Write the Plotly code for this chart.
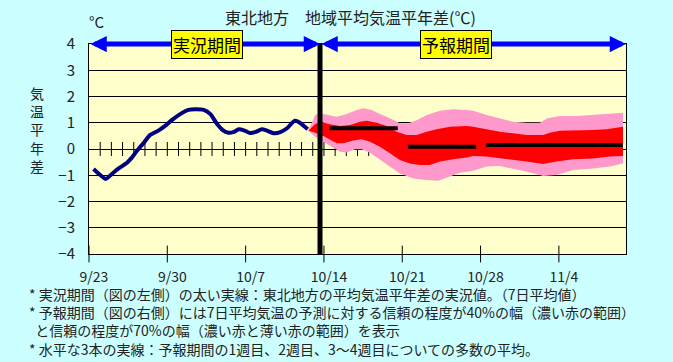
import plotly.graph_objects as go

# ---------------- data ----------------
tick_labels = ["9/23", "9/30", "10/7", "10/14", "10/21", "10/28", "11/4"]
n_days = 48
forecast_start = 20.65

# observed 7-day mean anomaly (days since 9/23)
obs_day = [0.4, 1.0, 1.5, 2.05, 2.65, 3.4, 3.85, 4.3, 4.9, 5.45, 6.2, 6.8, 7.4, 8.15,
           8.9, 9.5, 10.25, 10.85, 11.45, 11.95, 12.45, 12.9, 13.4, 13.9, 14.4, 14.9,
           15.45, 15.9, 16.5, 17.1, 17.7, 18.4, 18.85, 19.55]
obs_val = [-0.76, -0.99, -1.14, -0.95, -0.74, -0.52, -0.32, -0.06, 0.24, 0.53, 0.70,
           0.88, 1.10, 1.33, 1.49, 1.51, 1.49, 1.33, 0.95, 0.72, 0.62, 0.64, 0.75, 0.70,
           0.61, 0.65, 0.75, 0.70, 0.60, 0.64, 0.79, 1.08, 1.00, 0.75]

# 70% band
p70_up_day = [19.61, 20.21, 20.65, 21.25, 22.14, 23.04, 23.93, 24.52, 25.27, 26.0, 26.9,
              27.79, 28.54, 29.29, 30.18, 31.37, 32.55, 33.75, 34.34, 35.54, 36.72,
              37.91, 39.11, 40.29, 40.98, 42.06, 43.57, 45.05, 46.25, 47.73]
p70_up_val = [0.70, 1.30, 1.36, 1.30, 1.23, 1.33, 1.49, 1.55, 1.49, 1.33, 1.17, 0.98,
              0.98, 1.10, 1.30, 1.46, 1.51, 1.49, 1.46, 1.30, 1.17, 1.04, 1.00, 1.00,
              1.17, 1.26, 1.26, 1.30, 1.33, 1.38]
p70_lo_day = [19.61, 20.21, 20.95, 21.70, 22.45, 23.04, 23.78, 24.38, 25.12, 26.0, 26.9,
              27.79, 28.98, 30.18, 31.22, 32.11, 33.16, 34.34, 35.54, 36.72, 37.91,
              39.11, 40.59, 41.78, 43.27, 45.05, 46.55, 47.73]
p70_lo_val = [0.70, 0.47, 0.28, 0.09, -0.10, -0.13, -0.01, -0.01, -0.14, -0.42, -0.67,
              -0.93, -1.12, -1.18, -1.21, -1.08, -0.90, -0.83, -0.67, -0.65, -0.74,
              -0.86, -1.03, -0.99, -0.80, -0.74, -0.67, -0.55]

# 40% band
p40_up_day = [19.61, 20.21, 20.80, 21.40, 22.45, 23.34, 24.23, 24.83, 25.72, 26.61,
              27.50, 28.39, 29.29, 30.18, 31.07, 32.26, 33.75, 34.34, 35.54, 36.72,
              37.91, 39.11, 40.59, 41.19, 42.06, 43.57, 45.05, 46.25, 47.73]
p40_up_val = [0.70, 0.95, 1.04, 0.95, 0.88, 0.91, 1.04, 1.08, 1.00, 0.88, 0.66, 0.53,
              0.53, 0.66, 0.75, 0.85, 0.88, 0.85, 0.75, 0.66, 0.60, 0.53, 0.53, 0.62,
              0.70, 0.70, 0.72, 0.75, 0.85]
p40_lo_day = [19.61, 20.21, 20.95, 21.55, 22.14, 22.73, 23.63, 24.38, 25.12, 26.0, 26.9,
              27.79, 28.69, 29.58, 30.47, 31.37, 32.55, 33.75, 34.34, 35.54, 36.72,
              37.91, 39.11, 40.59, 41.78, 43.27, 45.05, 46.55, 47.73]
p40_lo_val = [0.70, 0.62, 0.50, 0.37, 0.22, 0.22, 0.32, 0.37, 0.28, 0.09, -0.16, -0.42,
              -0.55, -0.61, -0.61, -0.48, -0.39, -0.32, -0.27, -0.29, -0.36, -0.42,
              -0.48, -0.57, -0.48, -0.39, -0.36, -0.29, -0.27]

# weekly ensemble means
week_start = [21.5, 28.5, 35.5]
week_end = [27.6, 34.6, 47.7]
week_mean = [0.79, 0.09, 0.15]

title_text = "東北地方　地域平均気温平年差(℃)"
ylabel_chars = ["気", "温", "平", "年", "差"]
notes = [
    "* 実況期間（図の左側）の太い実線：東北地方の平均気温平年差の実況値。（7日平均値）",
    "* 予報期間（図の右側）には7日平均気温の予測に対する信頼の程度が40%の幅（濃い赤の範囲）",
    "\u00a0\u00a0と信頼の程度が70%の幅（濃い赤と薄い赤の範囲）を表示",
    "* 水平な3本の実線：予報期間の1週目、2週目、3～4週目についての多数の平均。",
]

# ---------------- layout geometry ----------------
W, H = 673, 362
L, R, T, B = 89, 47, 44, 108
PW, PH = W - L - R, H - T - B
FONT = "Noto Sans CJK JP"
TXT = "#222222"


def fx(px):
    return (px - L) / PW


def fy(py):
    return (T + PH - py) / PH


fig = go.Figure()

# small day ticks on the zero line
day_ticks = list(range(1, n_days))
fig.add_trace(go.Scatter(
    x=day_ticks, y=[0] * len(day_ticks), mode="markers",
    marker=dict(symbol="line-ns", size=10, line=dict(width=1, color="black")),
    hoverinfo="skip", showlegend=False))

# week ticks crossing the bottom axis
week_ticks = [7 * i for i in range(len(tick_labels))]
fig.add_trace(go.Scatter(
    x=week_ticks, y=[-4] * len(week_ticks), mode="markers", cliponaxis=False,
    marker=dict(symbol="line-ns", size=12, line=dict(width=1, color="black")),
    hoverinfo="skip", showlegend=False))

# 70% band (pink)
fig.add_trace(go.Scatter(
    x=p70_up_day + p70_lo_day[::-1], y=p70_up_val + p70_lo_val[::-1],
    fill="toself", fillcolor="#FF99CC", mode="lines", line=dict(width=0, color="#FF99CC"),
    hoverinfo="skip", showlegend=False))
# 40% band (red)
fig.add_trace(go.Scatter(
    x=p40_up_day + p40_lo_day[::-1], y=p40_up_val + p40_lo_val[::-1],
    fill="toself", fillcolor="#FF0000", mode="lines", line=dict(width=0, color="#FF0000"),
    hoverinfo="skip", showlegend=False))

# observed line
fig.add_trace(go.Scatter(
    x=obs_day, y=obs_val, mode="lines",
    line=dict(color="#000080", width=4, shape="spline", smoothing=0.6),
    hoverinfo="skip", showlegend=False))

# weekly mean lines
wx, wy = [], []
for s, e, m in zip(week_start, week_end, week_mean):
    wx += [s, e, None]
    wy += [m, m, None]
fig.add_trace(go.Scatter(x=wx, y=wy, mode="lines", line=dict(color="black", width=4),
                         hoverinfo="skip", showlegend=False))

# boundary between observed and forecast periods
fig.add_shape(type="line", x0=forecast_start, x1=forecast_start, y0=-4, y1=4,
              xref="x", yref="y", line=dict(color="black", width=5), layer="above")

annotations = []
# period arrows
for a, b in [(0, forecast_start), (forecast_start, n_days)]:
    annotations.append(dict(
        x=b, y=4, ax=a, ay=4, xref="x", yref="y", axref="x", ayref="y",
        text="", showarrow=True, arrowhead=2, arrowside="end+start",
        arrowsize=0.65, arrowwidth=5, arrowcolor="#0000FF", standoff=0, startstandoff=0))
# period labels
for lab, xd in [("実況期間", 10.52), ("予報期間", 32.84)]:
    annotations.append(dict(
        x=xd, y=4, xref="x", yref="y", text=lab, showarrow=False,
        bgcolor="#FFFF00", bordercolor="black", borderwidth=1, borderpad=1,
        font=dict(family=FONT, size=17, color="black")))
# title
annotations.append(dict(x=fx(350), y=fy(17), xref="paper", yref="paper", text=title_text,
                        showarrow=False, xanchor="center", yanchor="middle",
                        font=dict(family=FONT, size=16, color=TXT)))
# degree label
annotations.append(dict(x=fx(97), y=fy(22), xref="paper", yref="paper", text="°C",
                        showarrow=False, xanchor="center", yanchor="middle",
                        font=dict(family=FONT, size=15, color=TXT)))
# vertical y-axis label (stacked characters in one block)
annotations.append(dict(x=fx(37), y=fy(129.7), xref="paper", yref="paper",
                        text="<br>".join(ylabel_chars), showarrow=False,
                        xanchor="center", yanchor="middle", align="center",
                        font=dict(family=FONT, size=14, color=TXT)))
# footnotes (one multi-line block)
annotations.append(dict(x=fx(27), y=fy(321), xref="paper", yref="paper",
                        text="<br>".join(notes), showarrow=False,
                        xanchor="left", yanchor="middle", align="left",
                        font=dict(family=FONT, size=14, color=TXT)))

fig.update_layout(
    width=W, height=H,
    margin=dict(l=L, r=R, t=T, b=B, pad=0),
    paper_bgcolor="#CCFFFF", plot_bgcolor="#FFFFCC",
    showlegend=False,
    font=dict(family=FONT, size=14, color=TXT),
    annotations=annotations,
    xaxis=dict(range=[0, n_days], showgrid=False, zeroline=False,
               showline=True, linecolor="black", linewidth=1, mirror=True,
               tickmode="array", tickvals=week_ticks, ticktext=tick_labels,
               ticks="", ticklabelstandoff=10, ticklabelshift=5, automargin=False,
               tickfont=dict(family=FONT, size=14, color=TXT)),
    yaxis=dict(range=[-4, 4], dtick=1, showgrid=True, gridcolor="black", gridwidth=1,
               zeroline=True, zerolinecolor="black", zerolinewidth=1,
               showline=True, linecolor="black", linewidth=1, mirror=True,
               ticks="", ticklabelstandoff=10, automargin=False,
               tickfont=dict(family=FONT, size=15, color=TXT)),
)

fig.write_html("out.html", config={"displayModeBar": False},
               post_script="document.body.style.margin='0';document.body.style.padding='0';")
